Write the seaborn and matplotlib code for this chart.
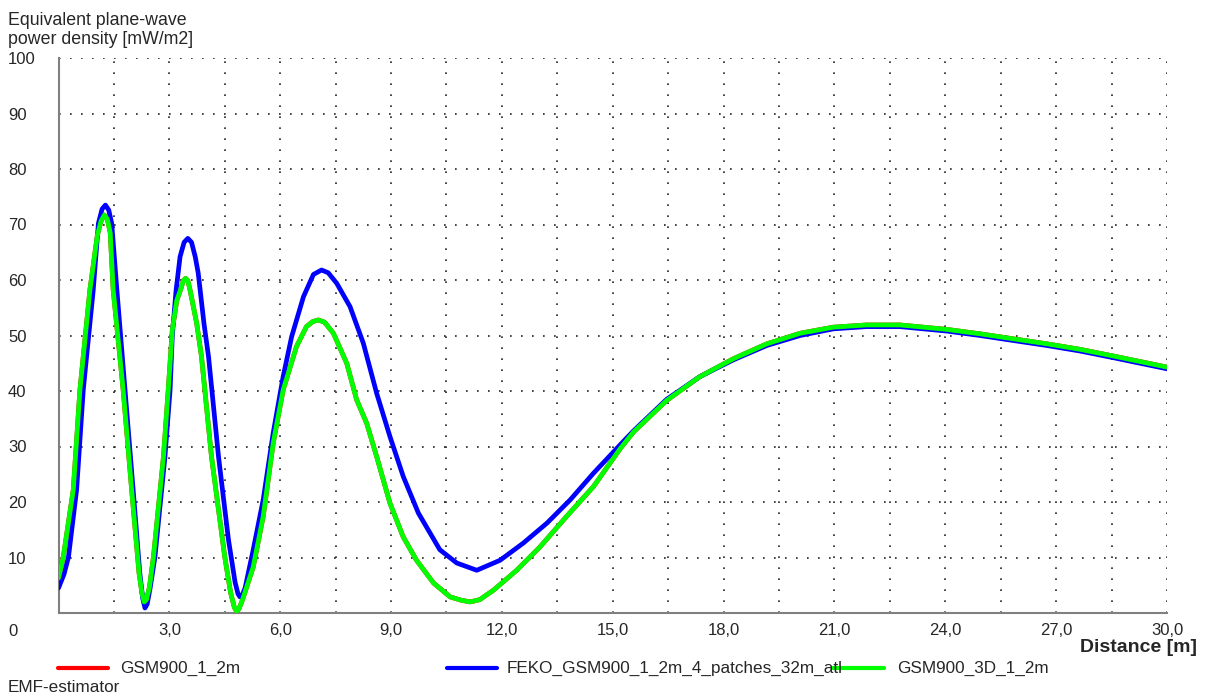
import numpy as np
import pandas as pd
import matplotlib
matplotlib.use("Agg")
import matplotlib.pyplot as plt
import seaborn as sns
from matplotlib.lines import Line2D

# ---------------- DATA ----------------
feko_x = [0, 0.15, 0.27, 0.49, 0.67, 0.94, 1.08, 1.18, 1.27, 1.36, 1.44, 1.58, 1.8, 2.02, 2.2,
          2.28, 2.34, 2.4, 2.48, 2.61, 2.88, 3.02, 3.08, 3.18, 3.29, 3.4, 3.5, 3.6, 3.7, 3.78,
          3.94, 4.06, 4.33, 4.6, 4.78, 4.86, 4.91, 4.97, 5.05, 5.27, 5.54, 5.81, 6.08, 6.31,
          6.63, 6.9, 7.12, 7.3, 7.53, 7.89, 8.25, 8.61, 8.97, 9.33, 9.74, 10.32, 10.78, 11.32,
          11.95, 12.58, 13.22, 13.85, 14.48, 15.2, 15.56, 16.46, 17.36, 18.26, 19.17, 20.07,
          20.97, 21.87, 22.77, 24.04, 24.94, 25.84, 26.75, 27.65, 28.55, 30]
feko_y = [4.5, 7.0, 10.1, 22.2, 40.2, 58.2, 70.2, 72.8, 73.5, 72.6, 70.2, 58.2, 40.2, 22.2, 7.2,
          2.6, 0.9, 1.6, 4.5, 10.1, 28.1, 40.2, 50.0, 58.0, 64.2, 66.8, 67.5, 66.8, 64.2, 61.3,
          52.0, 46.2, 28.2, 13.2, 5.5, 3.4, 2.9, 3.2, 4.5, 11.4, 20.4, 32.4, 42.6, 49.8,
          57.0, 61.0, 61.8, 61.3, 59.4, 55.2, 48.6, 39.6, 31.8, 24.6, 18.0, 11.4, 9.0, 7.7,
          9.5, 12.6, 16.2, 20.4, 25.2, 30.3, 32.8, 38.5, 42.6, 45.6, 48.2, 50.0,
          51.2, 51.6, 51.6, 50.8, 50.0, 49.1, 48.2, 47.2, 46.0, 44.0]

gsm3d_x = [0, 0.13, 0.4, 0.58, 0.85, 1.05, 1.15, 1.24, 1.32, 1.4, 1.48, 1.75, 1.98, 2.18, 2.26,
           2.32, 2.38, 2.46, 2.57, 2.84, 2.97, 3.08, 3.2, 3.3, 3.38, 3.44, 3.5, 3.56, 3.74, 3.87,
           4.14, 4.5, 4.66, 4.76, 4.82, 4.88, 4.97, 5.27, 5.54, 5.81, 6.08, 6.44, 6.71, 6.88,
           7.03, 7.2, 7.44, 7.8, 8.07, 8.34, 8.61, 8.97, 9.33, 9.69, 10.15, 10.6, 10.9, 11.14,
           11.4, 11.77, 12.4, 13.03, 13.75, 14.48, 15.2, 15.56, 16.46, 17.36, 18.26, 19.17,
           20.07, 20.97, 21.87, 22.77, 24.04, 24.94, 25.84, 26.75, 27.65, 28.55, 30]
gsm3d_y = [6.3, 10.1, 22.2, 40.2, 58.2, 68.0, 70.6, 71.7, 71.0, 68.5, 58.2, 40.2, 22.2, 7.2, 3.5,
           2.0, 2.4, 4.6, 10.1, 28.1, 40.2, 51.0, 56.3, 58.2, 59.9, 60.3, 59.9, 58.2, 52.2, 46.2,
           28.2, 10.1, 3.6, 1.0, 0.3, 0.7, 2.2, 8.3, 17.4, 30.6, 40.2, 48.0, 51.6, 52.5,
           52.8, 52.4, 50.4, 45.0, 38.4, 34.2, 28.2, 19.8, 13.7, 9.5, 5.4, 2.9, 2.3, 2.0,
           2.4, 4.1, 7.7, 11.9, 17.4, 22.8, 29.6, 32.6, 38.3, 42.6, 45.8, 48.5,
           50.4, 51.5, 51.9, 51.9, 51.1, 50.3, 49.4, 48.5, 47.5, 46.3, 44.3]

# GSM900_1_2m lies under GSM900_3D_1_2m in the picture
gsm_x = list(gsm3d_x)
gsm_y = list(gsm3d_y)

series_names = ["GSM900_1_2m", "FEKO_GSM900_1_2m_4_patches_32m_atl", "GSM900_3D_1_2m"]
series_colors = ["#ff0000", "#0000ff", "#00ff00"]

x_ticks = np.arange(0, 30.01, 1.5)
y_ticks = [10, 20, 30, 40, 50, 60, 70, 80, 90, 100]

df = pd.concat([
    pd.DataFrame({"dist": gsm_x, "power": gsm_y, "series": series_names[0]}),
    pd.DataFrame({"dist": feko_x, "power": feko_y, "series": series_names[1]}),
    pd.DataFrame({"dist": gsm3d_x, "power": gsm3d_y, "series": series_names[2]}),
])

# ---------------- FIGURE ----------------
sns.set_style("white")
plt.rcParams["font.family"] = ["Liberation Sans", "DejaVu Sans"]

W, H = 1208, 697
fig = plt.figure(figsize=(W / 100, H / 100), dpi=100)
ax = fig.add_axes([58.5 / W, 1 - 613 / H, (1167 - 58.5) / W, (613 - 58) / H])

sns.lineplot(data=df, x="dist", y="power", hue="series", hue_order=series_names,
             palette=series_colors, sort=False, estimator=None, linewidth=3.4,
             legend=False, ax=ax, zorder=3)

ax.set_xlim(0, 30)
ax.set_ylim(0, 100)

# dotted grid
for gx in x_ticks[1:]:
    ax.axvline(gx, color="#222222", lw=1.2, linestyle=(0, (1, 5.6)), zorder=1)
for gy in y_ticks:
    ax.axhline(gy, color="#222222", lw=1.2, linestyle=(0, (1, 5.6)), zorder=1)

for s in ["top", "right"]:
    ax.spines[s].set_visible(False)
for s in ["left", "bottom"]:
    ax.spines[s].set_color("#808080")
    ax.spines[s].set_linewidth(1.5)

ax.set_xticks(x_ticks)
ax.set_xticklabels(["" if (i == 0 or i % 2) else f"{v:.1f}".replace(".", ",")
                    for i, v in enumerate(x_ticks)], fontsize=12)
ax.set_yticks(y_ticks)
ax.set_yticklabels([str(v) for v in y_ticks], fontsize=12)
for lbl in ax.get_yticklabels():
    lbl.set_ha("left")
ax.tick_params(axis="y", length=0, pad=36.4)
ax.tick_params(axis="x", length=0, pad=7.5)
ax.set_xlabel("")
ax.set_ylabel("")

# texts around the plot
fig.text(8 / W, 1 - 632 / H, "0", fontsize=12, va="center", ha="left")
fig.text(8 / W, 1 - 25 / H, "Equivalent plane-wave", fontsize=12.8,
         va="baseline", ha="left")
fig.text(8 / W, 1 - 44 / H, "power density [mW/m2]", fontsize=12.8,
         va="baseline", ha="left")
fig.text(1197 / W, 1 - 647 / H, "Distance [m]", fontsize=14, fontweight="bold",
         va="center", ha="right")
fig.text(8 / W, 1 - 687 / H, "EMF-estimator", fontsize=12.3, va="center", ha="left")

# legend row at the bottom
legend_pos = [(58, 108, 120), (447, 497, 507), (833, 884, 897)]
ly = 1 - 668 / H
for (x1, x2, xt), name, col in zip(legend_pos, series_names, series_colors):
    fig.add_artist(Line2D([x1 / W, x2 / W], [ly, ly], color=col, lw=3,
                          transform=fig.transFigure))
    fig.text(xt / W, ly, name, fontsize=12.3, va="center", ha="left")

plt.savefig("out.png", dpi=100)
